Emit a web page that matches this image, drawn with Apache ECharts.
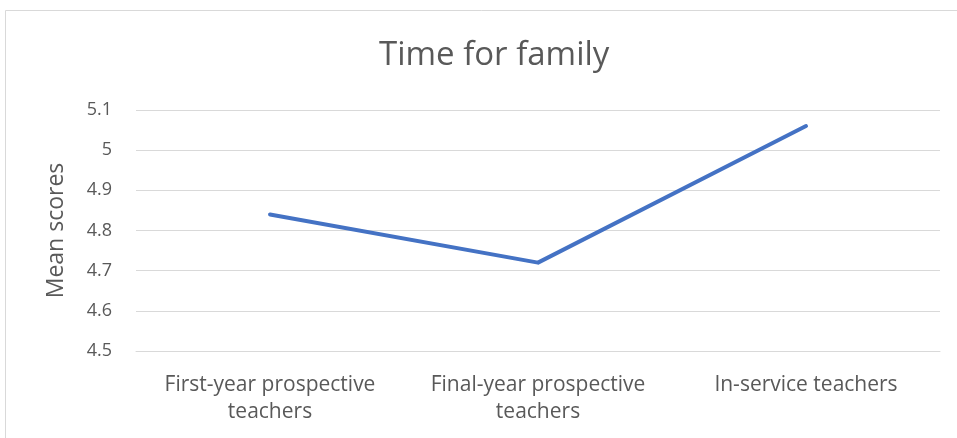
<!DOCTYPE html>
<html><head><meta charset="utf-8">
<script src="https://cdn.jsdelivr.net/npm/echarts@6/dist/echarts.min.js"></script>
<style>html,body{margin:0;padding:0;background:#fff}#c{width:957px;height:438px}</style>
</head><body><div id="c"></div>
<script>
const categories = ['First-year prospective\nteachers', 'Final-year prospective\nteachers', 'In-service teachers'];
const meanScores = [4.84, 4.72, 5.06];
const yTicks = [4.5, 4.6, 4.7, 4.8, 4.9, 5, 5.1];
const titleText = 'Time for family';
const yAxisName = 'Mean scores';

const FONT = '"Open Sans"';
const chart = echarts.init(document.getElementById('c'), null, {renderer: 'canvas'});
chart.setOption({
  animation: false,
  backgroundColor: '#fff',
  graphic: [{type: 'rect', shape: {x: 5.5, y: 10.5, width: 1000, height: 1000},
    style: {fill: 'none', stroke: '#d9d9d9', lineWidth: 1}, silent: true}],
  title: {text: titleText, left: 374, top: 34,
    textStyle: {fontFamily: FONT, fontSize: 33, fontWeight: 'normal', color: '#595959'}},
  grid: {left: 136, right: 17, top: 110, bottom: 87, containLabel: false},
  xAxis: {type: 'category', data: categories, boundaryGap: true,
    axisLine: {show: true, lineStyle: {color: '#d9d9d9', width: 1}},
    axisTick: {show: false},
    axisLabel: {fontFamily: FONT, fontSize: 21, color: '#595959', margin: 21, lineHeight: 27, interval: 0}},
  yAxis: {type: 'value', min: yTicks[0], max: yTicks[yTicks.length - 1], interval: 0.1,
    name: yAxisName, nameLocation: 'middle', nameGap: 68, nameRotate: 90,
    nameTextStyle: {fontFamily: FONT, fontSize: 23, color: '#595959'},
    axisLine: {show: false}, axisTick: {show: false},
    splitLine: {lineStyle: {color: '#d9d9d9', width: 1}},
    axisLabel: {fontFamily: FONT, fontSize: 18, color: '#595959', margin: 24,
      formatter: v => String(Math.round(v * 10) / 10)}},
  series: [{type: 'line', data: meanScores, symbol: 'none',
    lineStyle: {color: '#4472C4', width: 4, cap: 'round', join: 'round'}}]
});
</script></body></html>
